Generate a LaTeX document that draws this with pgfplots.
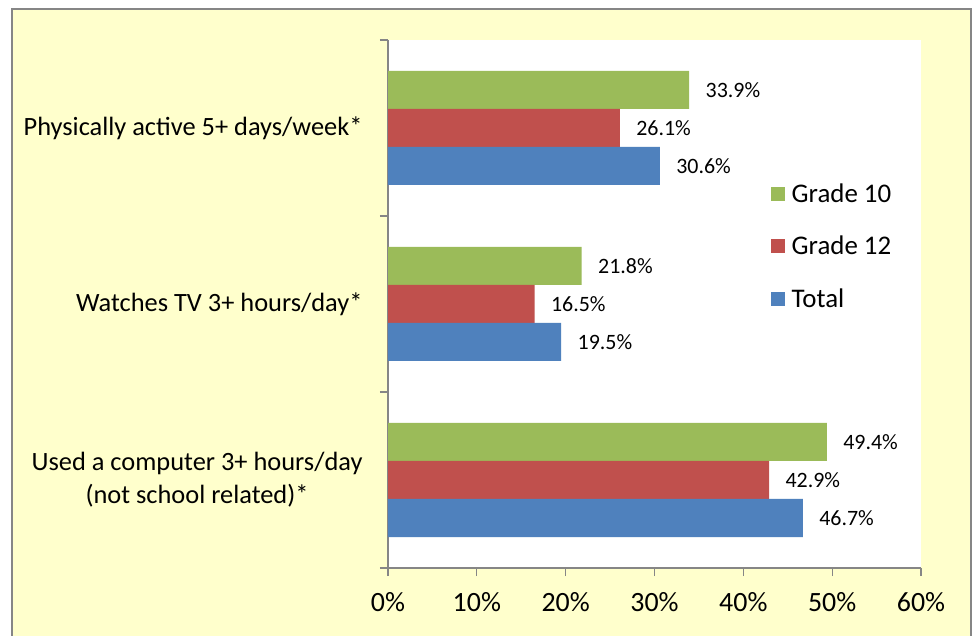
\documentclass[border=0pt]{standalone}
\usepackage{fontspec}
\setmainfont{Carlito}
\usepackage{pgfplots}
\pgfplotsset{compat=1.18}
\definecolor{bg}{HTML}{FFFFCC}
\definecolor{cgreen}{HTML}{9BBB59}
\definecolor{cred}{HTML}{C0504D}
\definecolor{cblue}{HTML}{4F81BD}
\definecolor{axgray}{HTML}{868686}
\begin{document}
\begin{tikzpicture}
\path[use as bounding box] (0bp,0bp) rectangle (973bp,636bp);
\begin{scope}
\clip (0bp,0bp) rectangle (973bp,636bp);
\filldraw[fill=bg, draw=axgray, line width=2bp] (12bp,-5bp) rectangle (971bp,627bp);
\end{scope}
\begin{axis}[
  at={(388bp,68bp)}, anchor=south west,
  scale only axis, width=533bp, height=528bp,
  xmin=0, xmax=60, ymin=0, ymax=3,
  xbar, bar width=38bp,
  axis background/.style={fill=white},
  axis x line=bottom, axis y line=left,
  axis line style={-, draw=axgray, line width=1.2bp},
  tick style={draw=axgray, line width=1.2bp},
  tick align=outside,
  major tick length=8bp, minor tick length=8bp,
  xtick={0,10,...,60},
  xticklabel={\pgfmathprintnumber{\tick}\%},
  /pgf/number format/assume math mode=true,
  xticklabel style={font=\fontsize{28}{32}\selectfont, yshift=-13bp},
  ytick={0.5,1.5,2.5},
  minor ytick={0,1,2,3},
  major y tick style={draw=none},
  yticklabels={{Used a computer 3+ hours/day\\(not school related)*},{Watches TV 3+ hours/day*},{Physically active 5+ days/week*}},
  yticklabel style={align=center, font=\fontsize{26.5}{33}\selectfont, xshift=-14bp},
  nodes near coords={\pgfmathprintnumber[fixed,precision=1,fixed zerofill]{\pgfplotspointmeta}\%},
  nodes near coords style={font=\fontsize{22}{24}\selectfont, xshift=13bp},
  legend style={at={(0.712,0.735)}, anchor=north west, draw=none, fill=none,
    font=\fontsize{27}{30}\selectfont, row sep=28bp},
  legend cell align=left,
  legend image code/.code={\fill[#1] (0bp,-7bp) rectangle (14bp,7bp);},
]
\addplot[fill=cgreen, draw=none, bar shift=38bp] coordinates {(49.4,0.5) (21.8,1.5) (33.9,2.5)};
\addlegendentry{\hspace{5bp}Grade 10}
\addplot[fill=cred, draw=none, bar shift=0bp] coordinates {(42.9,0.5) (16.5,1.5) (26.1,2.5)};
\addlegendentry{\hspace{5bp}Grade 12}
\addplot[fill=cblue, draw=none, bar shift=-38bp] coordinates {(46.7,0.5) (19.5,1.5) (30.6,2.5)};
\addlegendentry{\hspace{5bp}Total}
\end{axis}
\end{tikzpicture}
\end{document}
